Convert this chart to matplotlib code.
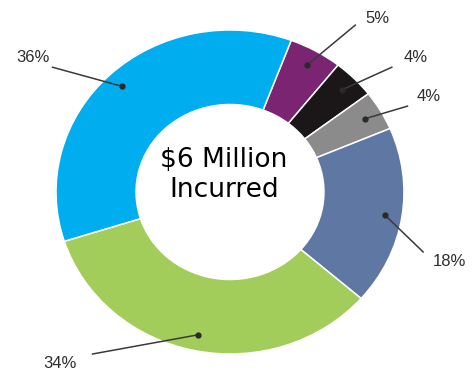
import numpy as np
import matplotlib.pyplot as plt

# share of the total, clockwise from the top
shares = [5, 4, 4, 18, 34, 36]
labels = ["5%", "4%", "4%", "18%", "34%", "36%"]
colors = ["#7b2471", "#1b1718", "#8b8b8b", "#5f78a3", "#a3cd5b", "#00adee"]
center_text = "$6 Million\nIncurred"

# where each label sits (end of the leader line, then the text)
line_ends = [(0.72, 1.03), (0.93, 0.77), (1.02, 0.53), (1.11, -0.37), (-0.79, -1.00), (-1.02, 0.77)]
text_pos = [(0.85, 1.07), (1.07, 0.83), (1.14, 0.59), (1.26, -0.43), (-0.98, -1.06), (-1.13, 0.83)]

fig = plt.figure(figsize=(4.76, 3.77), dpi=100)
ax = fig.add_axes([0, 0, 1, 1])

start = 90 - 20.6
wedges, _ = ax.pie(shares, colors=colors, startangle=start, counterclock=False,
                   wedgeprops=dict(width=0.46, edgecolor="white", linewidth=1.1))

# the ring is a bit wider than it is tall
ax.set_aspect("auto")
ax.set_xlim(-1.322, 1.414)
ax.set_ylim(-1.142, 1.185)
ax.axis("off")

label_font = ["Liberation Sans", "DejaVu Sans"]
for w, lab, end, tp in zip(wedges, labels, line_ends, text_pos):
    mid = np.deg2rad((w.theta1 + w.theta2) / 2)
    dx, dy = 0.9 * np.cos(mid), 0.9 * np.sin(mid)
    ax.plot([dx, end[0]], [dy, end[1]], color="#3a3a3a", lw=1.1)
    ax.plot(dx, dy, "o", color="#2a2a2a", ms=3.5)
    ax.text(tp[0], tp[1], lab, ha="center", va="center", fontsize=12,
            color="#2e2e2e", family=label_font)

ax.text(-0.035, 0.105, center_text, ha="center", va="center", fontsize=19,
        color="black", family="DejaVu Sans")

fig.savefig("out.png", dpi=100)
